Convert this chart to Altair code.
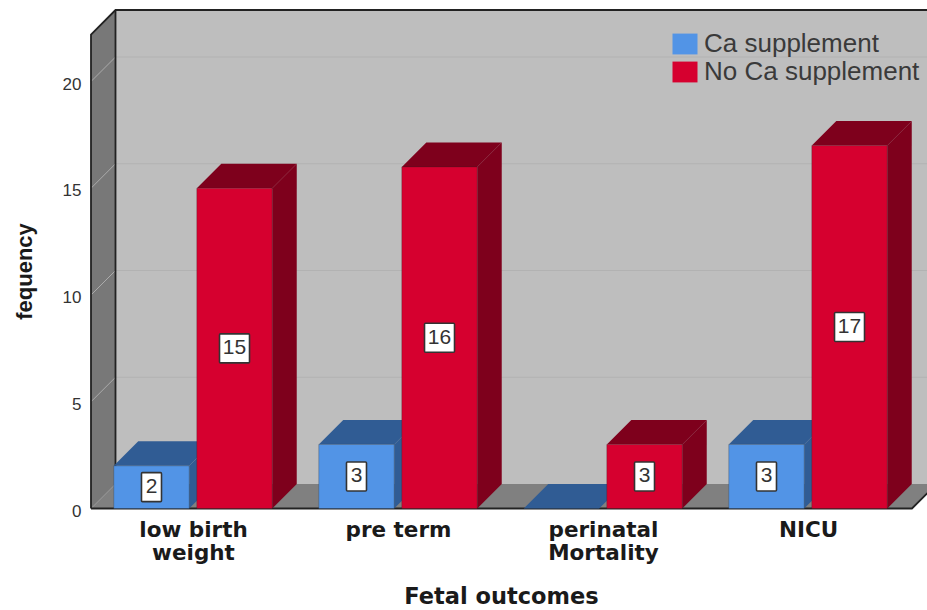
import json
import altair as alt
import pandas as pd

# Chart values
categories = ["low birth|weight", "pre term", "perinatal|Mortality", "NICU"]
series_names = ["Ca supplement", "No Ca supplement"]
ca_supplement = [2, 3, 0, 3]
no_ca_supplement = [15, 16, 3, 17]
y_ticks = [0, 5, 10, 15, 20]

# Colours
FRONT = ["#5294E6", "#D6002F"]
SHADE = ["#305C94", "#7E001C"]
WALL = "#BEBEBE"
SIDE_WALL = "#787878"
FLOOR = "#808080"
INK = "#222222"
FONT_BOLD = "DejaVu Sans"
FONT = "Liberation Sans"

# Plot area in pixels and pixels per data unit on each axis
PLOT_W, PLOT_H = 836, 498.5
PX_X, PX_Y = 205.0, 21.35

# Extrusion depth and bar layout, in data units
DX = 24.5 / PX_X
DY = 24.5 / PX_Y
BAR_W = 0.368
BAR_GAP = 0.037
X_MIN = -102 / PX_X
X_MAX = X_MIN + PLOT_W / PX_X
Y_MAX = PLOT_H / PX_Y
FLOOR_END = 3.507

x_scale = alt.Scale(domain=[X_MIN, X_MAX], nice=False, zero=False)
y_scale = alt.Scale(domain=[0, Y_MAX], nice=False, zero=False)


def X(field="x", **kw):
    return alt.X(f"{field}:Q", scale=x_scale, stack=None, **kw)


def Y(field="y", **kw):
    return alt.Y(f"{field}:Q", scale=y_scale, stack=None, **kw)


# One row per bar
bars = []
for s, values in enumerate([ca_supplement, no_ca_supplement]):
    for c, v in enumerate(values):
        x0 = c - BAR_W - BAR_GAP / 2 if s == 0 else c + BAR_GAP / 2
        bars.append(dict(bar=f"{s}-{c}", s=s, series=series_names[s], value=v,
                         label=str(v), x0=x0, x1=x0 + BAR_W, xc=x0 + BAR_W / 2, yc=v / 2))
bars_df = pd.DataFrame(bars)

# Top face runs along y, side face runs along x
tops, sides = [], []
for b in bars:
    tops += [dict(bar=b["bar"], s=b["s"], y=b["value"], a=b["x0"], b=b["x1"]),
             dict(bar=b["bar"], s=b["s"], y=b["value"] + DY, a=b["x0"] + DX, b=b["x1"] + DX)]
    sides += [dict(bar=b["bar"], s=b["s"], x=b["x1"], lo=0, hi=b["value"]),
              dict(bar=b["bar"], s=b["s"], x=b["x1"] + DX, lo=DY, hi=b["value"] + DY)]
tops_df, sides_df = pd.DataFrame(tops), pd.DataFrame(sides)

# Back wall
back = alt.Chart(pd.DataFrame([dict(a=X_MIN + DX, b=X_MAX, lo=DY, hi=Y_MAX)])).mark_rect(color=WALL).encode(
    x=X("a", title="Fetal outcomes",
        axis=alt.Axis(
            values=list(range(len(categories))),
            labelExpr=f"split({json.dumps(categories)}[datum.value], '|')",
            domain=False, ticks=False, grid=False,
            labelFont=FONT_BOLD, labelFontWeight="bold", labelFontSize=21.5,
            labelColor="#1a1a1a", labelPadding=11, labelLineHeight=23, labelBaseline="top",
            titleFont=FONT_BOLD, titleFontWeight="bold", titleFontSize=22.5,
            titleColor="#1a1a1a", titleX=410, titleY=88, titleBaseline="middle",
            titleAlign="center")),
    x2="b:Q",
    y=Y("lo", title="fequency",
        axis=alt.Axis(
            values=y_ticks, domain=False, ticks=False, grid=False,
            labelFont=FONT, labelFontSize=17, labelColor="#333333", labelPadding=10,
            labelOffset=2.5,
            titleFont=FONT, titleFontWeight="bold", titleFontSize=22, titleColor="#1a1a1a",
            titleX=-67, titleY=261, titleBaseline="middle", titleAlign="center")),
    y2="hi:Q",
)

# Left wall
left_wall = alt.Chart(pd.DataFrame([
    dict(x=X_MIN, lo=0, hi=Y_MAX - DY),
    dict(x=X_MIN + DX, lo=DY, hi=Y_MAX),
])).mark_area(color=SIDE_WALL).encode(x=X(), y=Y("lo"), y2="hi:Q")

# Floor
floor = alt.Chart(pd.DataFrame([
    dict(y=0, a=X_MIN, b=FLOOR_END),
    dict(y=DY, a=X_MIN + DX, b=FLOOR_END + DX),
])).mark_area(color=FLOOR, orient="horizontal").encode(y=Y(), x=X("a"), x2="b:Q")

# Gridlines on the back wall and across the left wall
grid_rows, diag_rows = [], []
for t in y_ticks[1:]:
    grid_rows += [dict(t=t, x=X_MIN + DX, y=t + DY), dict(t=t, x=X_MAX, y=t + DY)]
for t in y_ticks[1:]:
    diag_rows += [dict(t=t, x=X_MIN, y=t), dict(t=t, x=X_MIN + DX, y=t + DY)]
grid = alt.Chart(pd.DataFrame(grid_rows)).mark_line(color="#B2B2B2", strokeWidth=1).encode(
    x=X(), y=Y(), detail="t:N")
diagonals = alt.Chart(pd.DataFrame(diag_rows)).mark_line(color="#ABABAB", strokeWidth=1).encode(
    x=X(), y=Y(), detail="t:N")

# Frame outlines
frame_rows = [
    dict(p="outer", o=0, x=X_MIN, y=0),
    dict(p="outer", o=1, x=X_MIN, y=Y_MAX - DY),
    dict(p="outer", o=2, x=X_MIN + DX, y=Y_MAX),
    dict(p="outer", o=3, x=X_MAX, y=Y_MAX),
    dict(p="back", o=0, x=X_MIN + DX, y=DY),
    dict(p="back", o=1, x=X_MIN + DX, y=Y_MAX),
    dict(p="front", o=0, x=X_MIN, y=0),
    dict(p="front", o=1, x=FLOOR_END, y=0),
    dict(p="front", o=2, x=FLOOR_END + DX, y=DY),
]
frame = alt.Chart(pd.DataFrame(frame_rows)).mark_line(color=INK, strokeWidth=1.8).encode(
    x=X(), y=Y(), detail="p:N", order="o:Q")

# Shaded top and side faces, one colour per series
faces = []
for s in range(2):
    faces.append(alt.Chart(tops_df[tops_df.s == s]).mark_area(color=SHADE[s], orient="horizontal").encode(
        y=Y(), x=X("a"), x2="b:Q", detail="bar:N"))
    faces.append(alt.Chart(sides_df[sides_df.s == s]).mark_area(color=SHADE[s]).encode(
        x=X(), y=Y("lo"), y2="hi:Q", detail="bar:N"))

# Front faces carry the legend
fronts = alt.Chart(bars_df[bars_df.value > 0]).mark_rect(
    stroke="#222222", strokeOpacity=0.25, strokeWidth=1
).encode(
    x=X("x0"), x2="x1:Q", y=Y("value"), y2=alt.datum(0),
    fill=alt.Fill("series:N", scale=alt.Scale(domain=series_names, range=FRONT), legend=alt.Legend(
        title=None, orient="none", legendX=581, legendY=21,
        symbolType="M-1.2,-1H1.2V1H-1.2Z", symbolSize=434, symbolStrokeWidth=0, symbolOffset=0,
        labelFont=FONT, labelFontSize=26, labelColor="#3a3a3a", labelLimit=300, labelOffset=6,
        rowPadding=2, padding=0)),
)

# Value boxes at the middle of each front face
shown = bars_df[bars_df.value > 0].copy()
shown["half_w"] = shown["label"].str.len().map({1: 10.0, 2: 15.0}) / PX_X
shown["bx0"] = shown.xc - shown.half_w
shown["bx1"] = shown.xc + shown.half_w
shown["by0"] = shown.yc - 14.5 / PX_Y
shown["by1"] = shown.yc + 14.5 / PX_Y
boxes = alt.Chart(shown).mark_rect(fill="white", stroke="#333333", strokeWidth=1.6, cornerRadius=1).encode(
    x=X("bx0"), x2="bx1:Q", y=Y("by0"), y2="by1:Q")
labels = alt.Chart(shown).mark_text(font=FONT, fontSize=21, color="#333333", baseline="middle", align="center").encode(
    x=X("xc"), y=Y("yc"), text="label:N")

chart = alt.layer(
    back, left_wall, floor, grid, diagonals, frame, *faces, fronts, boxes, labels
).properties(
    width=PLOT_W, height=PLOT_H, background="white",
    padding={"left": 91, "top": 10, "right": 0, "bottom": 101.5},
    autosize=alt.AutoSizeParams(type="none"),
).configure_view(stroke=None)

chart.save("out.html", embed_options={"renderer": "svg", "actions": False})
